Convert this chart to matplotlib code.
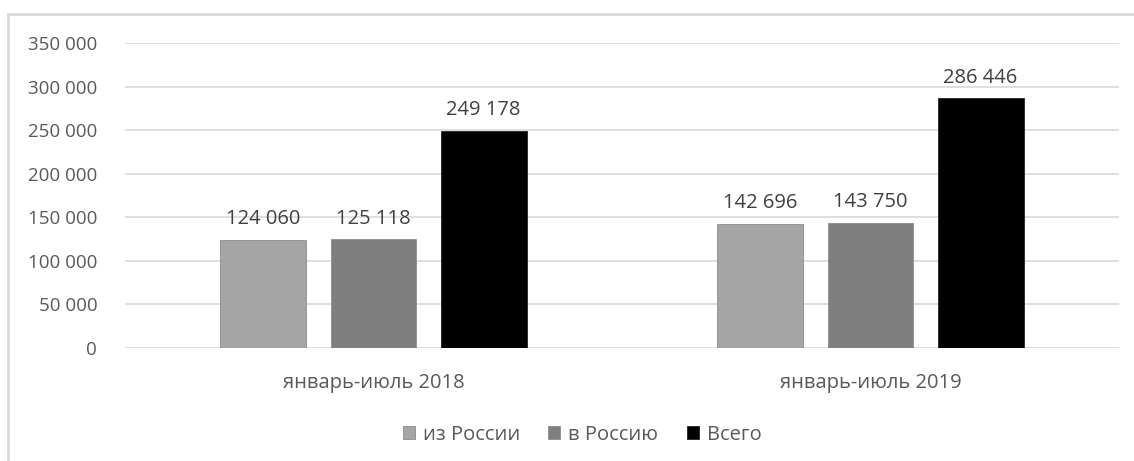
import matplotlib.pyplot as plt
from matplotlib.patches import Rectangle
import numpy as np

plt.rcParams['font.family'] = ['Open Sans', 'DejaVu Sans']

periods = ['январь-июль 2018', 'январь-июль 2019']
series = ['из России', 'в Россию', 'Всего']
from_russia = [124060, 142696]
to_russia = [125118, 143750]
total = [249178, 286446]
colors = ['#a5a5a5', '#7f7f7f', '#000000']
text_color = '#595959'


def fmt(v):
    return '{:,}'.format(int(v)).replace(',', ' ')


fig = plt.figure(figsize=(11.34, 4.61), dpi=100)
# outer chart border (cut off on the right and bottom)
fig.patches.append(Rectangle((8 / 1134, -0.05), 1.2, 1 - 14 / 461 + 0.05,
                             transform=fig.transFigure, fill=False,
                             edgecolor='#d9d9d9', linewidth=2))

ax = fig.add_axes([125 / 1134, 1 - 348 / 461, (1119 - 125) / 1134, (348 - 43) / 461])

x = np.arange(len(periods))
step = 0.2215
width = 0.173
for i, (vals, name) in enumerate(zip([from_russia, to_russia, total], series)):
    bars = ax.bar(x + (i - 1) * step, vals, width, color=colors[i], label=name,
                  edgecolor='#8c8c8c' if i < 2 else '#222222', linewidth=0.6, zorder=3)
    for b, v in zip(bars, vals):
        ax.text(b.get_x() + b.get_width() / 2, v + 12000, fmt(v), ha='center', va='bottom',
                fontsize=14.5, color='#404040')

ax.set_xlim(-0.5, 1.5)
ax.set_ylim(0, 350000)
ax.set_yticks(np.arange(0, 350001, 50000))
ax.set_yticklabels([fmt(v) for v in np.arange(0, 350001, 50000)])
ax.set_xticks(x)
ax.set_xticklabels(periods)
ax.grid(axis='y', color='#d9d9d9', linewidth=1.2, zorder=0)
ax.tick_params(axis='both', length=0, colors=text_color)
ax.tick_params(axis='y', pad=20, labelsize=13.5)
ax.tick_params(axis='x', pad=18, labelsize=14.5)
for s in ax.spines.values():
    s.set_visible(False)

ax.legend(loc='center', bbox_to_anchor=((582 - 125) / (1119 - 125), -0.285), ncol=3,
          frameon=False, fontsize=14.5, labelcolor=text_color, handlelength=0.6,
          handleheight=0.6, handletextpad=0.4, columnspacing=1.4)

fig.savefig('out.png', dpi=100)
